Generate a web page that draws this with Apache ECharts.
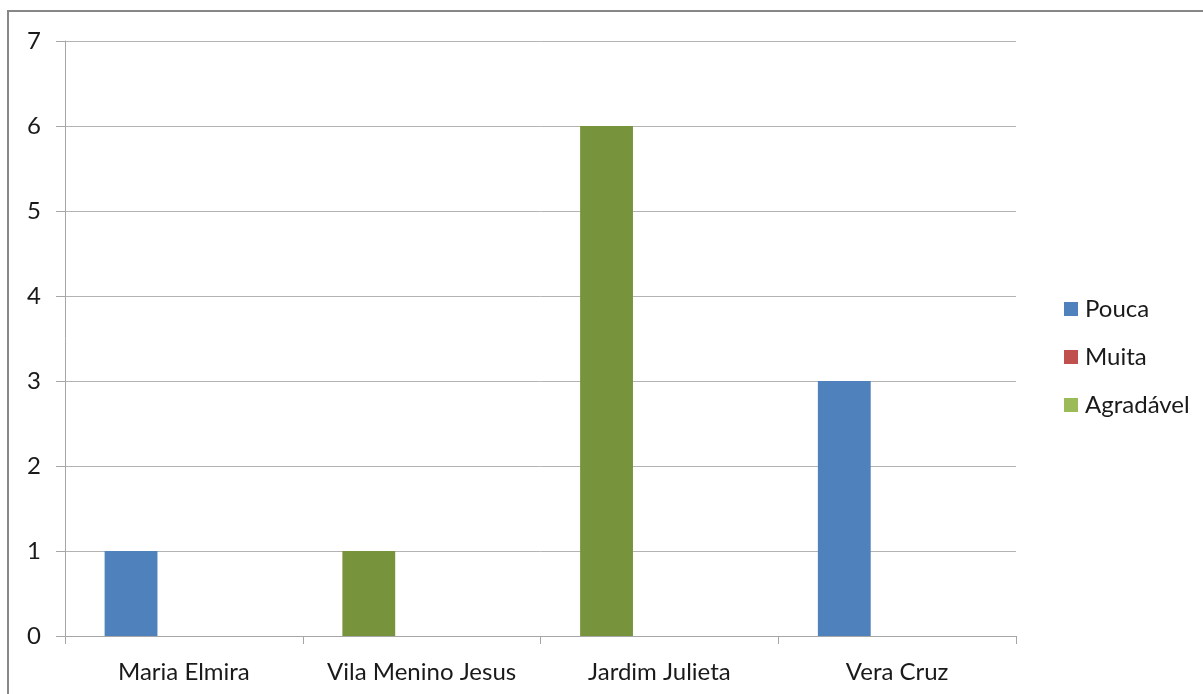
<!DOCTYPE html>
<html>
<head>
<meta charset="utf-8">
<script src="https://cdn.jsdelivr.net/npm/echarts@6/dist/echarts.min.js"></script>
<style>
  html, body { margin: 0; padding: 0; background: #fff; }
  #chart { width: 1203px; height: 694px; }
</style>
</head>
<body>
<div id="chart"></div>
<script>
// dados
var categories = ['Maria Elmira', 'Vila Menino Jesus', 'Jardim Julieta', 'Vera Cruz'];
var seriesNames = ['Pouca', 'Muita', 'Agradável'];
var pouca = [1, 1, 6, 3];
var muita = [null, null, null, null];
var agradavel = [null, null, null, null];
var yTicks = [0, 1, 2, 3, 4, 5, 6, 7];

// cores (estilo)
var colors = ['#4F81BD', '#C0504D', '#9BBB59'];
var poucaPointColors = ['#4F81BD', '#77933C', '#77933C', '#4F81BD'];

var chart = echarts.init(document.getElementById('chart'));

var font = 'Lato, "Open Sans", sans-serif';

var poucaData = pouca.map(function (v, i) {
    return { value: v, itemStyle: { color: poucaPointColors[i] } };
});

var option = {
    animation: false,
    color: colors,
    textStyle: { fontFamily: font },
    graphic: [{
        type: 'rect',
        shape: { x: 8, y: 11, width: 1400, height: 900 },
        style: { fill: null, stroke: '#878787', lineWidth: 2 },
        silent: true
    }],
    legend: {
        orient: 'vertical',
        left: 1059,
        top: 292,
        itemWidth: 14,
        itemHeight: 14,
        itemGap: 24,
        icon: 'rect',
        data: seriesNames,
        textStyle: { fontSize: 24, color: '#1a1a1a', fontFamily: font, padding: [0, 0, 0, 2] }
    },
    grid: { left: 65, right: 187, top: 41, bottom: 58, containLabel: false },
    xAxis: {
        type: 'category',
        data: categories,
        axisLine: { lineStyle: { color: '#a6a6a6', width: 1 } },
        axisTick: { show: true, interval: 0, length: 8, lineStyle: { color: '#a6a6a6' } },
        axisLabel: { interval: 0, fontSize: 24, color: '#1a1a1a', margin: 24, fontFamily: font },
        splitLine: { show: false }
    },
    yAxis: {
        type: 'value',
        min: yTicks[0],
        max: yTicks[yTicks.length - 1],
        interval: 1,
        axisLine: { show: true, lineStyle: { color: '#a6a6a6', width: 1 } },
        axisTick: { show: true, length: 9, lineStyle: { color: '#a6a6a6' } },
        axisLabel: { fontSize: 24, color: '#1a1a1a', margin: 24, fontFamily: font },
        splitLine: { show: true, lineStyle: { color: '#b3b3b3', width: 1 } }
    },
    series: [
        { name: seriesNames[0], type: 'bar', data: poucaData, barGap: '0%', barCategoryGap: '33.33%' },
        { name: seriesNames[1], type: 'bar', data: muita, barGap: '0%', barCategoryGap: '33.33%' },
        { name: seriesNames[2], type: 'bar', data: agradavel, barGap: '0%', barCategoryGap: '33.33%' }
    ]
};

chart.setOption(option);
</script>
</body>
</html>
